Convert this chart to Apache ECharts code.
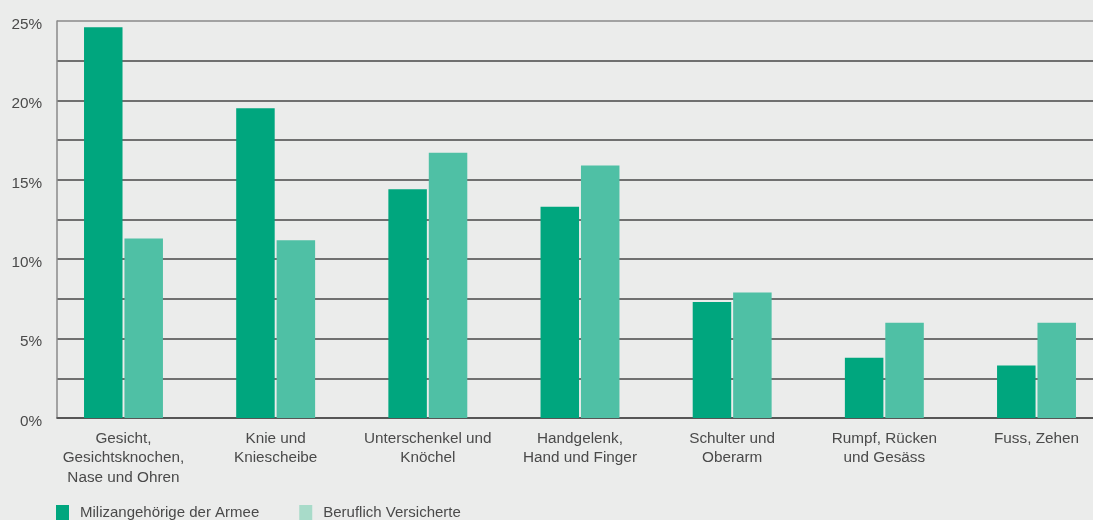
<!DOCTYPE html>
<html>
<head>
<meta charset="utf-8">
<script src="https://cdn.jsdelivr.net/npm/echarts@6/dist/echarts.min.js"></script>
<style>
  html, body { margin: 0; padding: 0; background: #ebeceb; }
  #chart { width: 1093px; height: 520px; }
</style>
</head>
<body>
<div id="chart"></div>
<script>
// Body regions (category labels, wrapped onto lines)
const categories = [
  'Gesicht,\nGesichtsknochen,\nNase und Ohren',
  'Knie und\nKniescheibe',
  'Unterschenkel und\nKnöchel',
  'Handgelenk,\nHand und Finger',
  'Schulter und\nOberarm',
  'Rumpf, Rücken\nund Gesäss',
  'Fuss, Zehen'
];
const seriesNames = ['Milizangehörige der Armee', 'Beruflich Versicherte'];
// Share of injuries per region, in percent
const militia = [24.6, 19.5, 14.4, 13.3, 7.3, 3.8, 3.3];
const insured = [11.3, 11.2, 16.7, 15.9, 7.9, 6.0, 6.0];
const yTicks = [0, 5, 10, 15, 20, 25];

const dark = '#00a67e';
const light = '#4fc0a5';
const lightLegend = '#a8dbc9';
const textColor = '#4a4a4a';
const font = '"Liberation Sans", Arial, sans-serif';

const gridLineColors = [];
for (let i = 0; i < 11; i++) gridLineColors.push(i === 10 ? '#8a8a8a' : '#474747');

const chart = echarts.init(document.getElementById('chart'), null, { renderer: 'canvas' });
chart.setOption({
  backgroundColor: '#ebeceb',
  animation: false,
  textStyle: { fontFamily: font },
  legend: {
    left: 56,
    top: 505,
    padding: 0,
    itemWidth: 13,
    itemHeight: 15,
    itemGap: 40,
    icon: 'rect',
    textStyle: { fontFamily: font, fontSize: 15, color: textColor, padding: [0, 0, 0, 6] },
    data: [
      { name: seriesNames[0], itemStyle: { color: dark } },
      { name: seriesNames[1], itemStyle: { color: lightLegend } }
    ]
  },
  grid: [
    // frame, value axis and gridlines
    { left: 57, right: 0, top: 21, height: 397, containLabel: false },
    // bar area, wider than the frame so the outer groups sit near the edges
    { left: 47.4, width: 1065.2, top: 21, height: 397, containLabel: false, outerBoundsMode: 'none' }
  ],
  xAxis: [
    {
      type: 'category', gridIndex: 0, data: categories,
      axisLine: { show: true, lineStyle: { color: '#4d4d4d', width: 1.5 } },
      axisTick: { show: false }, axisLabel: { show: false }, splitLine: { show: false }
    },
    {
      type: 'category', gridIndex: 1, data: categories,
      axisLine: { show: false }, axisTick: { show: false }, splitLine: { show: false },
      axisLabel: {
        interval: 0, margin: 11, fontFamily: font, fontSize: 15.3, lineHeight: 19.5,
        color: textColor, align: 'center'
      }
    }
  ],
  yAxis: [
    {
      type: 'value', gridIndex: 0, min: 0, max: 25, interval: 2.5,
      axisLine: { show: true, lineStyle: { color: '#8a8a8a', width: 1.5 } },
      axisTick: { show: false },
      axisLabel: {
        margin: 15, fontFamily: font, fontSize: 15.3, color: textColor,
        formatter: v => (yTicks.indexOf(v) >= 0 ? '{v|' + v + '%}' : ''),
        rich: { v: { fontFamily: font, fontSize: 15.3, color: textColor, padding: [7, 0, 0, 0] } }
      },
      splitLine: { show: true, lineStyle: { color: gridLineColors, width: 1.5 } }
    },
    {
      type: 'value', gridIndex: 1, min: 0, max: 25, show: false,
      splitLine: { show: false }
    }
  ],
  series: [
    {
      name: seriesNames[0], type: 'bar', xAxisIndex: 1, yAxisIndex: 1,
      data: militia, barWidth: 38.5, barGap: '5%',
      itemStyle: { color: dark }, z: 3
    },
    {
      name: seriesNames[1], type: 'bar', xAxisIndex: 1, yAxisIndex: 1,
      data: insured, barWidth: 38.5, barGap: '5%',
      itemStyle: { color: light }, z: 3
    }
  ]
});
</script>
</body>
</html>
